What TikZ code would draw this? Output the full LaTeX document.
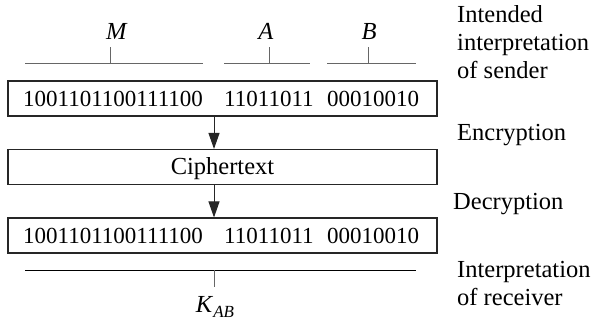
\documentclass[tikz,border=0pt]{standalone}
\usepackage{fontspec}
\setmainfont{Liberation Serif}
\usetikzlibrary{arrows.meta}
\begin{document}
\begin{tikzpicture}[x=1pt,y=-1pt,
  every node/.style={inner sep=0pt,font=\fontsize{24.5}{28}\selectfont},
  digits/.style={anchor=base west,font=\fontsize{23}{28}\selectfont},
  boxst/.style={draw=black!85,line width=1.1pt,rectangle,minimum width=429pt,minimum height=35pt},
  brk/.style={draw=black!60,line width=1pt},
  arr/.style={draw=black!85,line width=1pt,-{Triangle[length=16pt,width=11pt]}},
  lbl/.style={anchor=base west,align=left}]
\useasboundingbox (0,0) rectangle (596,321);
% boxes
\node[boxst] (box1) at (222.5,98.5) {};
\node[boxst] (box2) at (222.5,167) {};
\node[anchor=base] (ct) at (box2.center |- 0,174) {Ciphertext};
\node[boxst] (box3) at (222.5,235.5) {};
% bit strings
\node[digits] (s1) at (23,106) {1001101100111100};
\node[digits] (s2) at (224,106) {11011011};
\node[digits] (s3) at (327,106) {00010010};
\node[digits] (r1) at (23,243) {1001101100111100};
\node[digits] (r2) at (224,243) {11011011};
\node[digits] (r3) at (327,243) {00010010};
% top brackets
\coordinate (mL) at (25,63); \coordinate (mR) at (203,63);
\coordinate (mT) at (110,63); \coordinate (mU) at (110,47);
\coordinate (aL) at (224,63); \coordinate (aR) at (310,63);
\coordinate (aT) at (269,63); \coordinate (aU) at (269,47);
\coordinate (bL) at (327,63); \coordinate (bR) at (416,63);
\coordinate (bT) at (368,63); \coordinate (bU) at (368,47);
\draw[brk] (mL) -- (mR); \draw[brk] (mT) -- (mU);
\draw[brk] (aL) -- (aR); \draw[brk] (aT) -- (aU);
\draw[brk] (bL) -- (bR); \draw[brk] (bT) -- (bU);
\node[anchor=base] (M) at (117,40) {\textit{M}};
\node[anchor=base] (A) at (266,40) {\textit{A}};
\node[anchor=base] (B) at (369,40) {\textit{B}};
% arrows
\coordinate (ax) at (214,0);
\draw[arr] (box1.south -| ax) -- (box2.north -| ax);
\draw[arr] (box2.south -| ax) -- (box3.north -| ax);
% bottom bracket
\coordinate (kL) at (25,270); \coordinate (kR) at (416,270);
\coordinate (kT) at (214,270); \coordinate (kU) at (214,287);
\draw[draw=black,line width=1pt] (kL) -- (kR);
\draw[brk] (kT) -- (kU);
\node[anchor=base] (K) at (215,312) {\textit{K}\raisebox{-0.22em}{\fontsize{17}{17}\selectfont\textit{AB}}};
% right labels
\node[lbl] (l1) at (457,78) {Intended\\interpretation\\of sender};
\node[lbl] (l2) at (457,140) {Encryption};
\node[lbl] (l3) at (453,209) {Decryption};
\node[lbl] (l4) at (457,305) {Interpretation\\of receiver};
\end{tikzpicture}
\end{document}
